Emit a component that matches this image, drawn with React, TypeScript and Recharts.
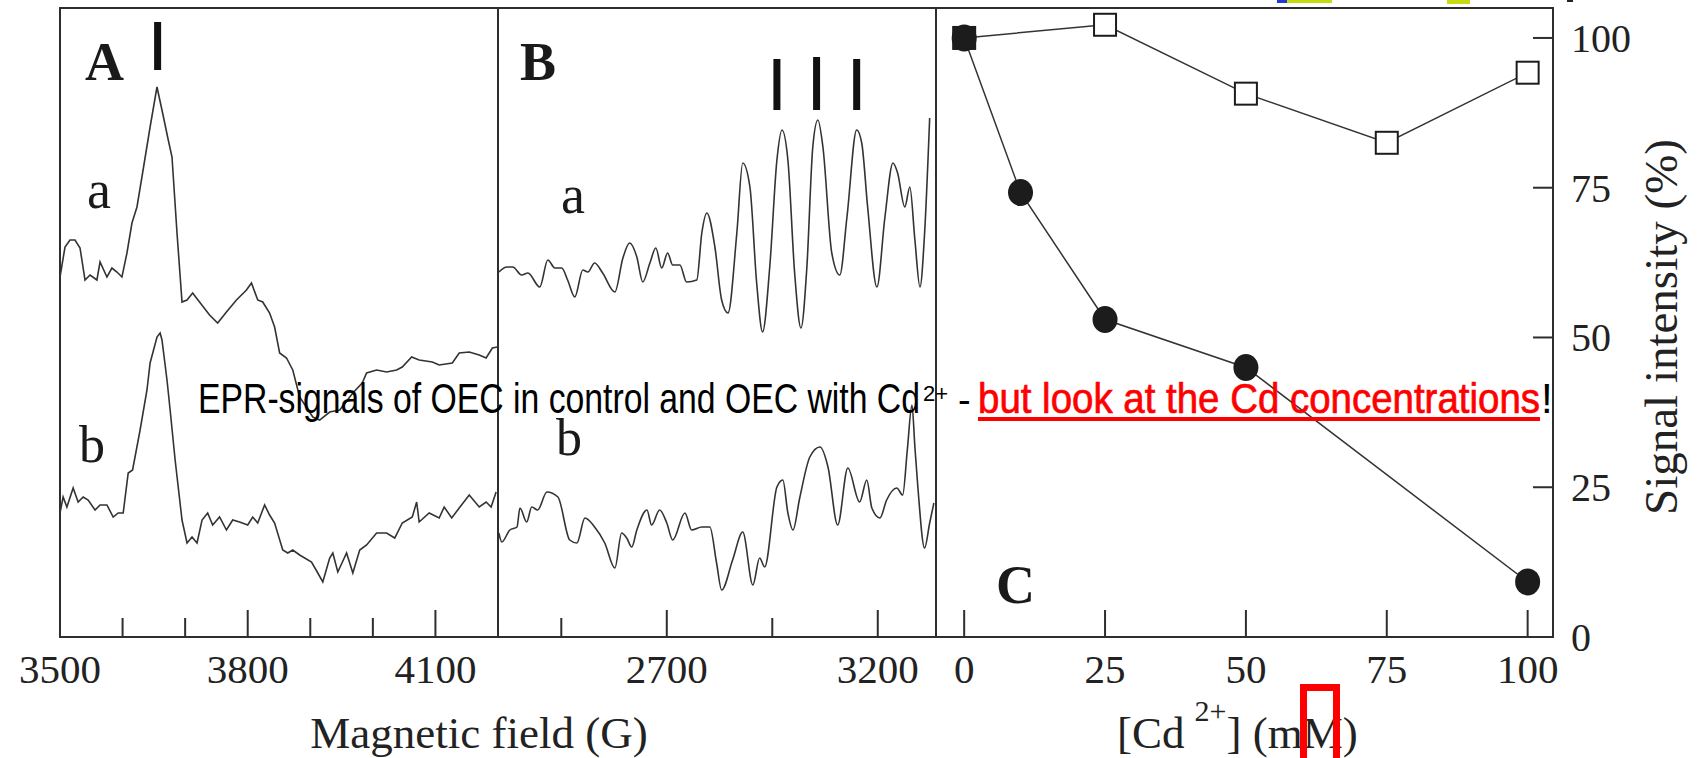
import React from 'react';
import { LineChart, Line, XAxis, YAxis, ReferenceArea, ReferenceLine } from 'recharts';

const W = 1698;
const H = 758;
const INK = '#2e2e2e';
const SERIF = '"Liberation Serif", "Times New Roman", Times, serif';
const NARROW = '"Liberation Sans Narrow", "Arial Narrow", "Liberation Sans", Arial, sans-serif';

// Panel A: field (G) and signal (arb. units) for trace a (control) and b (Cd)
const aFieldA = [3500, 3508, 3516, 3524, 3532, 3540, 3548, 3559, 3564, 3575, 3583, 3591, 3599, 3607, 3615, 3623, 3632, 3644, 3655, 3664, 3672, 3679, 3687, 3695, 3703, 3712, 3723, 3739, 3752, 3766, 3782, 3798, 3806, 3816, 3824, 3835, 3843, 3851, 3862, 3872, 3883, 3904, 3915, 3931, 3947, 3968, 3983, 3990, 4006, 4022, 4038, 4047, 4062, 4074, 4095, 4106, 4127, 4138, 4154, 4170, 4181, 4191, 4199];
const aSignalA = [360, 390, 397, 397, 389, 357, 362, 357, 375, 360, 369, 365, 360, 384, 414, 430, 464, 510, 550, 524, 500, 480, 404, 335, 337, 344, 335, 322, 314, 325, 337, 347, 354, 337, 335, 324, 310, 284, 279, 267, 240, 220, 217, 225, 227, 244, 254, 264, 267, 265, 267, 270, 280, 277, 275, 272, 274, 284, 285, 282, 279, 289, 290];
const aFieldB = [3500, 3505, 3511, 3521, 3529, 3537, 3545, 3556, 3564, 3575, 3585, 3593, 3601, 3609, 3616, 3628, 3639, 3644, 3655, 3660, 3663, 3671, 3676, 3684, 3695, 3703, 3711, 3719, 3727, 3736, 3744, 3755, 3766, 3776, 3787, 3800, 3808, 3816, 3827, 3835, 3843, 3856, 3864, 3872, 3883, 3902, 3912, 3920, 3931, 3936, 3944, 3958, 3968, 3979, 3990, 4006, 4022, 4035, 4047, 4063, 4070, 4074, 4090, 4106, 4114, 4126, 4138, 4154, 4170, 4181, 4189, 4197];
const aSignalB = [124, 140, 130, 149, 135, 140, 137, 127, 132, 132, 120, 124, 124, 164, 167, 207, 247, 274, 300, 304, 297, 257, 227, 177, 117, 94, 100, 94, 117, 124, 112, 120, 107, 117, 115, 112, 120, 114, 132, 122, 114, 87, 84, 87, 82, 75, 64, 55, 79, 84, 65, 84, 64, 87, 92, 104, 104, 99, 114, 120, 135, 115, 124, 119, 130, 119, 129, 142, 130, 135, 130, 145];

// Panel B: multiline signal
const bFieldA = [2302, 2321, 2335, 2356, 2371, 2399, 2418, 2435, 2451, 2465, 2482, 2501, 2513, 2529, 2548, 2577, 2596, 2612, 2629, 2643, 2660, 2674, 2688, 2702, 2714, 2731, 2747, 2771, 2783, 2795, 2814, 2830, 2845, 2866, 2880, 2897, 2913, 2927, 2944, 2961, 2973, 2987, 3003, 3018, 3032, 3046, 3058, 3070, 3091, 3110, 3127, 3150, 3162, 3176, 3198, 3217, 3236, 3247, 3264, 3276, 3288, 3300, 3311, 3323];
const bSignalA = [365, 370, 370, 362, 364, 350, 377, 369, 369, 357, 340, 367, 365, 374, 364, 345, 379, 394, 380, 355, 374, 389, 369, 384, 372, 372, 355, 357, 404, 424, 390, 337, 324, 404, 474, 450, 354, 305, 370, 477, 507, 477, 364, 309, 370, 490, 517, 490, 384, 362, 420, 507, 494, 430, 350, 420, 474, 464, 430, 450, 397, 350, 404, 519];
const bFieldB = [2302, 2309, 2328, 2345, 2352, 2368, 2380, 2394, 2416, 2442, 2470, 2487, 2506, 2529, 2553, 2577, 2593, 2605, 2617, 2629, 2653, 2664, 2683, 2700, 2714, 2743, 2759, 2783, 2802, 2818, 2830, 2856, 2880, 2904, 2920, 2932, 2961, 2975, 2987, 2999, 3015, 3039, 3063, 3082, 3105, 3129, 3157, 3174, 3186, 3205, 3221, 3245, 3259, 3270, 3281, 3288, 3295, 3311, 3323, 3333];
const bSignalB = [104, 95, 107, 110, 129, 115, 130, 127, 145, 140, 97, 94, 119, 110, 94, 69, 104, 99, 90, 107, 127, 112, 127, 114, 97, 124, 107, 110, 110, 74, 47, 77, 105, 52, 79, 70, 150, 157, 124, 107, 139, 180, 190, 170, 112, 169, 135, 157, 129, 119, 137, 149, 142, 187, 232, 190, 150, 89, 114, 134];

// marker bars (field positions)
const aMarks = [3656];
const bMarks = [2961, 3055, 3150];

// Panel C: signal intensity (%) vs [Cd2+]
const cdSquares = [0, 25, 50, 75, 100];
const squareSignal = [100, 102.2, 90.7, 82.5, 94.2];
const cdCircles = [0, 10, 25, 50, 100];
const circleSignal = [100, 74.2, 53, 45, 9.2];

const aTicks = [3500, 3600, 3700, 3800, 3900, 4000, 4100];
const aLabels = [3500, 3800, 4100];
const bTicks = [2450, 2700, 2950, 3200];
const bLabels = [2700, 3200];
const cTicks = [0, 25, 50, 75, 100];

const zip = (xs: number[], ys: number[]) =>
    xs.slice(0, Math.min(xs.length, ys.length)).map((g, i) => ({ g, v: ys[i] }));

const bottomTick = (labels: number[]) => (props: any) => {
    const { x, y, payload } = props;
    const v = payload.value;
    const len = labels.includes(v) ? 27 : 19;
    return (
        <g>
            <line x1={x} y1={y} x2={x} y2={y - len} stroke={INK} strokeWidth={2} />
            {labels.includes(v) && (
                <text x={x} y={y + 46} textAnchor="middle" fontFamily={SERIF} fontSize={41} fill="#222">
                    {v}
                </text>
            )}
        </g>
    );
};

const rightTick = (props: any) => {
    const { x, y, payload } = props;
    return (
        <g>
            <line x1={x} y1={y} x2={x - 20} y2={y} stroke={INK} strokeWidth={2} />
            <text x={x + 18} y={y + 14} fontFamily={SERIF} fontSize={40} fill="#222">
                {payload.value}
            </text>
        </g>
    );
};

const SquareDot = (props: any) => {
    const { cx, cy, index } = props;
    if (cx == null || cy == null) return <g key={`s${index}`} />;
    return (
        <rect key={`s${index}`} x={cx - 11} y={cy - 11} width={22} height={22}
            fill={index === 0 ? '#1c1c1c' : '#fff'} stroke="#1c1c1c" strokeWidth={2} />
    );
};

const CircleDot = (props: any) => {
    const { cx, cy, index } = props;
    if (cx == null || cy == null) return <g key={`c${index}`} />;
    return <ellipse key={`c${index}`} cx={cx} cy={cy} rx={12.5} ry={13.5} fill="#1c1c1c" />;
};

const layer: React.CSSProperties = { position: 'absolute', left: 0, top: 0 };

function Spectrum({ left, right, domain, ticks, labels, traces, marks, smooth }: any) {
    return (
        <div style={layer}>
            <LineChart width={W} height={H} margin={{ top: 8, left, right: W - right, bottom: H - 637 - 60 }}>
                <XAxis type="number" dataKey="g" domain={domain} allowDataOverflow ticks={ticks} interval={0}
                    axisLine={false} tickLine={false} tickSize={0} tickMargin={0} height={60}
                    tick={bottomTick(labels)} />
                <YAxis hide type="number" domain={[0, 629]} allowDataOverflow />
                <ReferenceArea x1={domain[0]} x2={domain[1]} y1={0} y2={629} fill="none"
                    stroke={INK} strokeWidth={2} ifOverflow="visible" />
                {marks.map((m: any) => (
                    <ReferenceLine key={m.g} segment={[{ x: m.g, y: m.y0 }, { x: m.g, y: m.y1 }]}
                        stroke="#111" strokeWidth={7} ifOverflow="visible" />
                ))}
                {traces.map((t: any, i: number) => (
                    <Line key={i} data={t} dataKey="v" type={smooth ? 'monotone' : 'linear'} stroke="#333"
                        strokeWidth={1.6} dot={false} isAnimationActive={false} />
                ))}
            </LineChart>
        </div>
    );
}

export default function App() {
    const squares = zip(cdSquares, squareSignal);
    const circles = zip(cdCircles, circleSignal);
    return (
        <div style={{ position: 'absolute', left: 0, top: 0, width: W, height: H, background: '#fff', overflow: 'hidden' }}>
            <Spectrum left={60} right={498} domain={[3500, 4200]} ticks={aTicks} labels={aLabels}
                traces={[zip(aFieldA, aSignalA), zip(aFieldB, aSignalB)]}
                marks={aMarks.map((g) => ({ g, y0: 567, y1: 615 }))} />
            <Spectrum left={498} right={936} domain={[2300, 3338]} ticks={bTicks} labels={bLabels} smooth
                traces={[zip(bFieldA, bSignalA), zip(bFieldB, bSignalB)]}
                marks={bMarks.map((g, i) => ({ g, y0: 527, y1: i === 1 ? 580 : 578 }))} />
            <div style={layer}>
                <LineChart width={W} height={H} margin={{ top: 8, left: 936, right: W - 1553 - 60, bottom: H - 637 - 60 }}>
                    <XAxis type="number" dataKey="g" domain={[-5, 104.5]} allowDataOverflow ticks={cTicks} interval={0}
                        axisLine={false} tickLine={false} tickSize={0} tickMargin={0} height={60}
                        tick={bottomTick(cTicks)} />
                    <YAxis orientation="right" type="number" domain={[0, 105]} allowDataOverflow ticks={cTicks} interval={0}
                        width={60} axisLine={false} tickLine={false} tickSize={0} tickMargin={0} tick={rightTick} />
                    <ReferenceArea x1={-5} x2={104.5} y1={0} y2={105} fill="none" stroke={INK} strokeWidth={2} ifOverflow="visible" />
                    <Line data={squares} dataKey="v" type="linear" stroke="#333" strokeWidth={1.5}
                        dot={SquareDot} isAnimationActive={false} />
                    <Line data={circles} dataKey="v" type="linear" stroke="#333" strokeWidth={1.5}
                        dot={CircleDot} isAnimationActive={false} />
                </LineChart>
            </div>
            <svg width={W} height={H} style={{ ...layer, pointerEvents: 'none' }}>
                <rect x={1277} y={0} width={10} height={3} fill="#2438d8" />
                <rect x={1287} y={0} width={45} height={3} fill="#c6dc10" />
                <rect x={1447} y={0} width={23} height={4} fill="#c6dc10" />
                <rect x={1567} y={0} width={6} height={2} fill="#222" />
                <g fontFamily={SERIF} fill="#1a1a1a">
                    <text x={85} y={80} fontSize={54} fontWeight="bold">A</text>
                    <text x={520} y={80} fontSize={54} fontWeight="bold">B</text>
                    <text x={996} y={603} fontSize={54} fontWeight="bold">C</text>
                    <text x={87} y={208} fontSize={54}>a</text>
                    <text x={79} y={462} fontSize={52}>b</text>
                    <text x={561} y={213} fontSize={54}>a</text>
                    <text x={556} y={455} fontSize={52}>b</text>
                </g>
                <g fontFamily={SERIF} fill="#222" fontSize={45}>
                    <text x={479} y={748} textAnchor="middle">Magnetic field (G)</text>
                    <text x={1117} y={748}>
                        [Cd
                        <tspan dx={10} dy={-27} fontSize={30}>2+</tspan>
                        <tspan dy={27}>] (mM)</tspan>
                    </text>
                    <text x={1677} y={327} textAnchor="middle" transform="rotate(-90 1677 327)" fontSize={47}>
                        Signal intensity (%)
                    </text>
                </g>
                <rect x={1303.5} y={687.5} width={33} height={90} fill="none" stroke="#ff0000" strokeWidth={7} />
                <g fontFamily={NARROW}>
                    <text x={198} y={413} fontSize={42} fill="#000" textLength={722} lengthAdjust="spacingAndGlyphs">
                        EPR-signals of OEC in control and OEC with Cd
                    </text>
                    <text x={923} y={401} fontSize={22} fill="#000">2+</text>
                    <text x={958} y={413} fontSize={38} fill="#000">-</text>
                    <text x={978} y={413} fontSize={42} fill="#ff0000" stroke="#ff0000" strokeWidth={0.7}
                        textLength={562} lengthAdjust="spacingAndGlyphs">
                        but look at the Cd concentrations
                    </text>
                    <line x1={978} y1={419} x2={1540} y2={419} stroke="#ff0000" strokeWidth={4} />
                    <text x={1541} y={413} fontSize={42} fill="#000">!</text>
                </g>
            </svg>
        </div>
    );
}
